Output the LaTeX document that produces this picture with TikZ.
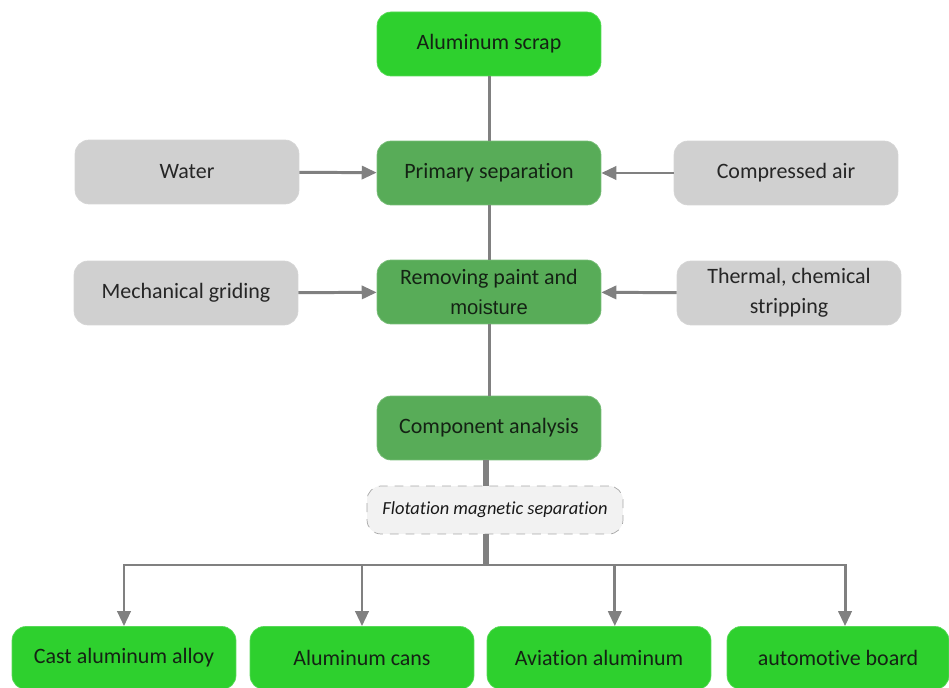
\documentclass[tikz,border=0pt]{standalone}
\usepackage{fontspec}
\setmainfont[Ligatures=NoCommon]{Carlito}
\newfontfamily\arialfont{Liberation Sans}
\usetikzlibrary{arrows.meta,positioning}
\definecolor{brightgreen}{RGB}{46,208,46}
\definecolor{darkgreen}{RGB}{88,172,88}
\definecolor{palegrey}{RGB}{208,208,208}
\definecolor{flotgrey}{RGB}{242,242,242}
\definecolor{linegrey}{RGB}{128,128,128}
\definecolor{textdark}{RGB}{20,34,20}
\tikzset{
  box/.style={rounded corners=8pt,minimum width=4.48cm,minimum height=1.28cm,
    align=center,font=\fontsize{12.5}{17}\selectfont,text=textdark},
  brightbox/.style={box,fill=brightgreen,draw=brightgreen!80!white},
  darkbox/.style={box,fill=darkgreen,draw=darkgreen!80!white},
  greybox/.style={box,fill=palegrey,draw=palegrey!90!white,text=black!85},
  flotbox/.style={rounded corners=8pt,minimum width=5.12cm,minimum height=0.96cm,
    fill=flotgrey,draw=black!35,dashed,dash pattern=on 5pt off 4pt,
    font=\fontsize{10.5}{12}\selectfont\itshape,text=black!90},
  link/.style={draw=linegrey,line width=1.7pt},
  trunk/.style={draw=linegrey,line width=3.4pt},
  feed/.style={link,-{Triangle[length=8.5pt,width=7.5pt]}}
}
\begin{document}
\begin{tikzpicture}[x=0.02cm,y=-0.02cm]
  \useasboundingbox (0,0) rectangle (949,688);
  % main column
  \node[brightbox] (scrap) at (489,44) {Aluminum scrap};
  \node[darkbox] (primsep) at (489,173) {Primary separation};
  \node[darkbox] (paint) at (489,292) {Removing paint and\\{\arialfont\fontsize{11.5}{17}\selectfont moisture}};
  \node[darkbox] (analysis) at (489,428) {Component analysis};
  \node[flotbox] (flot) at (495,510) {Flotation magnetic separation};
  % side inputs
  \node[greybox] (water) at (187,172) {Water};
  \node[greybox] (air) at (786,173) {Compressed air};
  \node[greybox] (grind) at (186,293) {Mechanical griding};
  \node[greybox] (thermal) at (789,293) {Thermal, chemical\\stripping};
  % products
  \node[brightbox,minimum height=1.26cm] (cast) at (124,658) {Cast aluminum alloy};
  \node[brightbox,minimum height=1.26cm] (cans) at (362,658) {Aluminum cans};
  \node[brightbox,minimum height=1.26cm] (aviation) at (599,658) {Aviation aluminum};
  \node[brightbox,minimum height=1.26cm,minimum width=4.44cm] (auto) at (838,658) {automotive board};
  \coordinate (split) at (486,565);
  % connectors
  \draw[link] (scrap) -- (primsep);
  \draw[link] (primsep) -- (paint);
  \draw[link] (paint) -- (analysis);
  \draw[feed] (water) -- (primsep);
  \draw[feed] (air) -- (primsep);
  \draw[feed] (grind) -- (paint);
  \draw[feed] (thermal) -- (paint);
  \draw[trunk] (analysis.south -| split) -- (flot.north -| split);
  \draw[trunk] (flot.south -| split) -- (split);
  \draw[feed] (split) -| (cast.north);
  \draw[feed] (split) -| (cans.north);
  \draw[feed] (split) -| ([xshift=9] aviation.north);
  \draw[feed] (split) -| ([xshift=4] auto.north);
\end{tikzpicture}
\end{document}
